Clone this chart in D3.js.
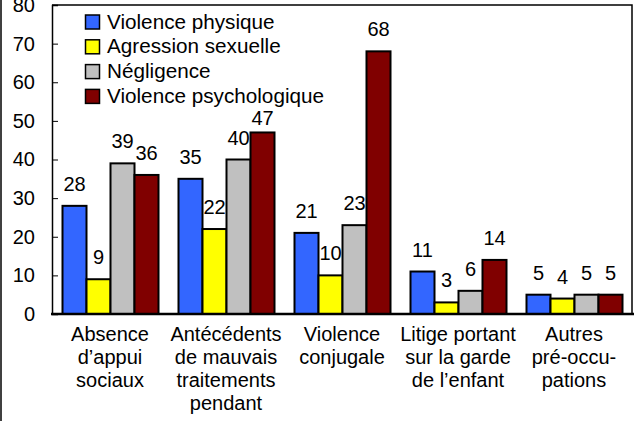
<!DOCTYPE html>
<html>
<head>
<meta charset="utf-8">
<script src="https://cdn.jsdelivr.net/npm/d3@7"></script>
<style>
  html, body { margin: 0; padding: 0; background: #fff; }
  svg { display: block; }
  text { font-family: "Liberation Sans", Arial, Helvetica, sans-serif; fill: #000; }
</style>
</head>
<body>
<svg id="chart" width="634" height="421"></svg>
<script>
const categories = [
  ["Absence", "d’appui", "sociaux"],
  ["Antécédents", "de mauvais", "traitements", "pendant"],
  ["Violence", "conjugale"],
  ["Litige portant", "sur la garde", "de l’enfant"],
  ["Autres", "pré-occu-", "pations"]
];
const seriesNames = ["Violence physique", "Agression sexuelle", "Négligence", "Violence psychologique"];
const seriesColors = ["#3366FF", "#FFFF00", "#C0C0C0", "#800000"];
const violencePhysique = [28, 35, 21, 11, 5];
const agressionSexuelle = [9, 22, 10, 3, 4];
const negligence = [39, 40, 23, 6, 5];
const violencePsychologique = [36, 47, 68, 14, 5];
const yTicks = [0, 10, 20, 30, 40, 50, 60, 70, 80];

const seriesValues = [violencePhysique, agressionSexuelle, negligence, violencePsychologique];

const svg = d3.select("#chart");
const plotLeft = 52, plotRight = 632, plotTop = 5, plotBottom = 314;

const x0 = d3.scaleBand().domain(d3.range(categories.length)).range([plotLeft, plotRight]);
const x1 = d3.scaleBand().domain(d3.range(seriesNames.length)).range([10.5, x0.bandwidth() - 9.5]);
const y = d3.scaleLinear().domain([0, 80]).range([plotBottom, plotTop]);

// outer figure edge
svg.append("line").attr("x1", 1).attr("x2", 1).attr("y1", 0).attr("y2", 421)
  .attr("stroke", "#000").attr("stroke-width", 1.5);

// plot frame (top and right)
svg.append("path")
  .attr("d", `M${plotLeft},${plotTop}H${plotRight}V${plotBottom}`)
  .attr("fill", "none").attr("stroke", "#000").attr("stroke-width", 1.5);

// y axis
const yAxis = d3.axisLeft(y).tickValues(yTicks).tickSize(-6).tickPadding(17).tickFormat(d3.format("d"));
const gy = svg.append("g").attr("transform", `translate(${plotLeft},0)`).call(yAxis);
gy.select(".domain").attr("stroke", "#000").attr("stroke-width", 1.5);
gy.selectAll(".tick line").attr("stroke", "#000").attr("stroke-width", 1);
gy.selectAll(".tick text").attr("font-size", 20).attr("font-family", "Liberation Sans, Arial, sans-serif").attr("fill", "#000");

// bars
const data = [];
categories.forEach((c, ci) => {
  seriesValues.forEach((vals, si) => data.push({ ci, si, v: vals[ci] }));
});

svg.append("g").selectAll("rect").data(data).join("rect")
  .attr("x", d => x0(d.ci) + x1(d.si))
  .attr("y", d => y(d.v))
  .attr("width", x1.bandwidth())
  .attr("height", d => y(0) - y(d.v))
  .attr("fill", d => seriesColors[d.si])
  .attr("stroke", "#000").attr("stroke-width", 2);

// legend
const legendX = 85, legendY = 14.5, legendStep = 24.8;
const leg = svg.append("g").selectAll("g").data(seriesNames).join("g")
  .attr("transform", (d, i) => `translate(${legendX},${legendY + i * legendStep})`);
leg.append("rect").attr("x", 0.5).attr("y", 0.5).attr("width", 14).attr("height", 14)
  .attr("fill", (d, i) => seriesColors[i]).attr("stroke", "#000").attr("stroke-width", 1.5);
leg.append("text").attr("x", 22).attr("y", 14).attr("font-size", 20.7).text(d => d);

// legend box extent (to keep value labels clear of it)
let legendBox = { x1: 0, x2: 0, y2: 0 };
(function () {
  const bb = leg.nodes().map(n => n.getBBox());
  const tx = legendX, ty = legendY;
  legendBox.x1 = tx;
  legendBox.x2 = tx + d3.max(bb, b => b.x + b.width);
  legendBox.y2 = ty + (seriesNames.length - 1) * legendStep + d3.max(bb, b => b.y + b.height);
})();

// value labels
svg.append("g").selectAll("text").data(data).join("text")
  .attr("x", d => x0(d.ci) + x1(d.si) + x1.bandwidth() / 2)
  .attr("y", d => {
    const cx = x0(d.ci) + x1(d.si) + x1.bandwidth() / 2;
    let yy = y(d.v) - 15;
    if (cx > legendBox.x1 && cx < legendBox.x2 && yy - 15 < legendBox.y2) {
      yy = Math.min(legendBox.y2 + 18, y(d.v) - 6);
    }
    return yy;
  })
  .attr("text-anchor", "middle")
  .attr("font-size", 20)
  .text(d => d.v);

// x axis line
svg.append("line").attr("x1", plotLeft - 1).attr("x2", 634).attr("y1", plotBottom).attr("y2", plotBottom)
  .attr("stroke", "#000").attr("stroke-width", 2.5);

// category labels
const cat = svg.append("g").selectAll("text").data(categories).join("text")
  .attr("text-anchor", "middle")
  .attr("font-size", 20)
  .attr("fill", "#111");
cat.each(function(lines, i) {
  const t = d3.select(this);
  lines.forEach((ln, li) => {
    t.append("tspan")
      .attr("x", x0(i) + x0.bandwidth() / 2)
      .attr("y", 341 + li * 23)
      .text(ln);
  });
});
</script>
</body>
</html>
